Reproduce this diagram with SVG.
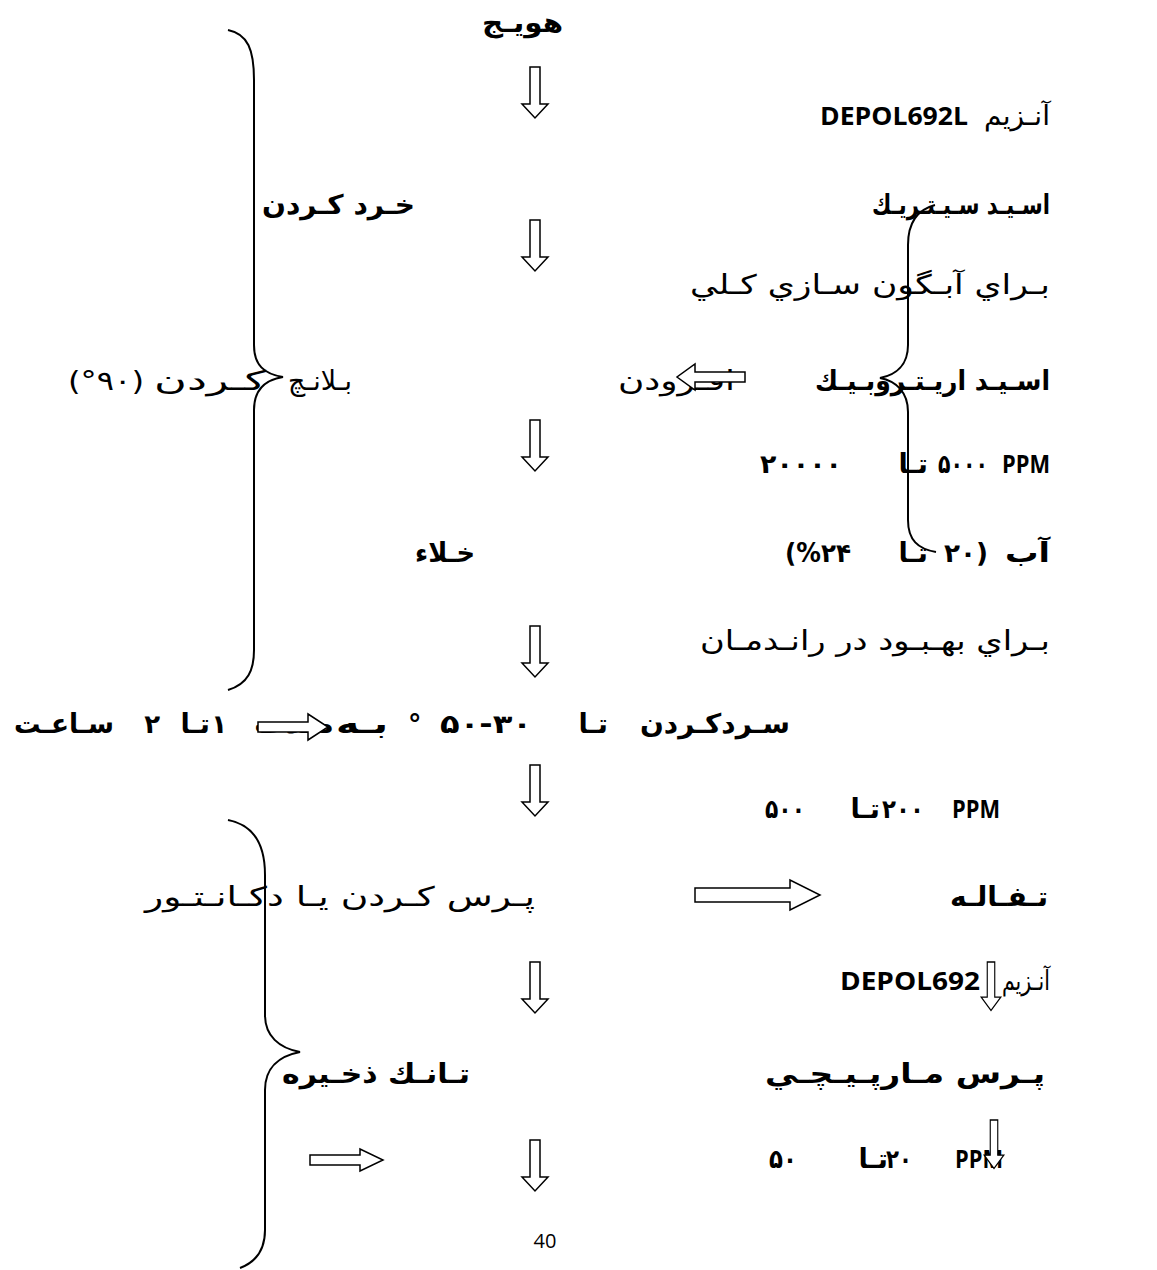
<svg xmlns="http://www.w3.org/2000/svg" width="1157" height="1270" viewBox="0 0 1157 1270">
<style>
.ar{font-family:"DejaVu Sans",sans-serif;font-size:27px;font-weight:bold;fill:#000}
.arn{font-family:"DejaVu Sans",sans-serif;font-size:27px;font-weight:normal;fill:#000}
.dg{font-family:"DejaVu Sans",sans-serif;font-size:26px;font-weight:bold;fill:#000;letter-spacing:3px}
.lat{font-family:"Open Sans","Noto Sans",sans-serif;font-size:25px;font-weight:bold;fill:#000}
.pg{font-family:"Open Sans","Noto Sans",sans-serif;font-size:20px;fill:#000}
.arrow{fill:#fff;stroke:#000;stroke-width:1.5}
.brace{fill:none;stroke:#000;stroke-width:2}
</style>
<defs>
<path id="darrow" d="M-5 0 H5 V37 H13 L0 51 L-13 37 H-5 Z"/>
</defs>
<rect width="1157" height="1270" fill="#fff"/>

<g id="braces">
<path class="brace" d="M228 30 C248 34 254 50 254 80 L254 345 C254 365 264 374 283 377 C264 380 254 390 254 410 L254 650 C254 670 248 684 228 690"/>
<path class="brace" d="M935 205 C916 210 908 225 908 245 L908 345 C908 365 896 375 880 378 C896 381 908 392 908 412 L908 520 C908 540 918 549 936 552"/>
<path class="brace" d="M228 820 C254 825 265 845 265 875 L265 1015 C265 1036 279 1048 300 1052 C279 1056 265 1068 265 1090 L265 1230 C265 1250 256 1262 240 1268"/>
</g>

<g id="n-carrot"><text class="ar" x="563" y="32" text-anchor="end" textLength="81" lengthAdjust="spacingAndGlyphs">هويـج</text></g>
<g id="n-enzyme1">
<text class="lat" x="968" y="125" text-anchor="end" textLength="148" lengthAdjust="spacingAndGlyphs">DEPOL692L</text>
<text class="arn" x="1050" y="125" text-anchor="end" textLength="66" lengthAdjust="spacingAndGlyphs">آنـزيم</text>
</g>
<g id="n-crush"><text class="ar" x="415" y="214" text-anchor="end" textLength="153" lengthAdjust="spacingAndGlyphs">خـرد  كـردن</text></g>
<g id="n-citric"><text class="ar" x="1050" y="214" text-anchor="end" textLength="178" lengthAdjust="spacingAndGlyphs">اسـيـد  سـيـتـريـك</text></g>
<g id="n-juice"><text class="arn" x="1050" y="294" text-anchor="end" textLength="360" lengthAdjust="spacingAndGlyphs">بـراي  آبـگون  سـازي  كـلي</text></g>
<g id="n-blanch">
<text class="arn" x="352" y="390" text-anchor="end" textLength="64" lengthAdjust="spacingAndGlyphs">بـلانـچ</text>
<text class="arn" x="266" y="390" text-anchor="end" textLength="112" lengthAdjust="spacingAndGlyphs">كـردن</text>
<text class="arn" x="68" y="390" textLength="76" lengthAdjust="spacingAndGlyphs">(°۹۰)</text>
</g>
<g id="n-add"><text class="arn" x="735" y="390" text-anchor="end" textLength="117" lengthAdjust="spacingAndGlyphs">افـزودن</text></g>
<g id="n-erythorbic"><text class="ar" x="1050" y="390" text-anchor="end" textLength="235" lengthAdjust="spacingAndGlyphs">اسـيـد  اريـتـروبـيـك</text></g>
<g id="n-ppm1">
<text class="lat" x="1050" y="473" text-anchor="end" textLength="48" lengthAdjust="spacingAndGlyphs">PPM</text>
<text class="dg" x="988" y="473" text-anchor="end" textLength="50" lengthAdjust="spacingAndGlyphs">۵۰۰۰</text>
<text class="ar" x="928" y="473" text-anchor="end">تـا</text>
<text class="dg" x="842" y="473" text-anchor="end" textLength="82" lengthAdjust="spacingAndGlyphs">۲۰۰۰۰</text>
</g>
<g id="n-vacuum"><text class="ar" x="475" y="562" text-anchor="end" textLength="60" lengthAdjust="spacingAndGlyphs">خـلاء</text></g>
<g id="n-water">
<text class="ar" x="1050" y="562" text-anchor="end" textLength="45" lengthAdjust="spacingAndGlyphs">آب</text>
<text class="dg" x="988" y="562" text-anchor="end" textLength="44" lengthAdjust="spacingAndGlyphs">۲۰)</text>
<text class="ar" x="928" y="562" text-anchor="end">تـا</text>
<text class="dg" x="785" y="562" textLength="66" lengthAdjust="spacingAndGlyphs">(%۲۴</text>
</g>
<g id="n-yield"><text class="arn" x="1050" y="650" text-anchor="end" textLength="350" lengthAdjust="spacingAndGlyphs">بـراي  بهـبـود  در  رانـدمـان</text></g>
<g id="n-cool">
<text class="ar" x="790" y="733" text-anchor="end" textLength="150" lengthAdjust="spacingAndGlyphs">سـردكـردن</text>
<text class="ar" x="608" y="733" text-anchor="end">تـا</text>
<text class="dg" x="440" y="733" textLength="92" lengthAdjust="spacingAndGlyphs">۵۰-۳۰</text>
<text class="ar" x="408" y="733">°</text>
<text class="ar" x="388" y="733" text-anchor="end" textLength="52" lengthAdjust="spacingAndGlyphs">بـه</text>
<text class="ar" x="334" y="733" text-anchor="end" textLength="80" lengthAdjust="spacingAndGlyphs">مـدت</text>
<text class="dg" x="227" y="733" text-anchor="end">۱</text>
<text class="ar" x="210" y="733" text-anchor="end">تـا</text>
<text class="dg" x="160" y="733" text-anchor="end">۲</text>
<text class="ar" x="114" y="733" text-anchor="end" textLength="100" lengthAdjust="spacingAndGlyphs">سـاعـت</text>
</g>
<g id="n-ppm2">
<text class="lat" x="1000" y="818" text-anchor="end" textLength="48" lengthAdjust="spacingAndGlyphs">PPM</text>
<text class="dg" x="924" y="818" text-anchor="end" textLength="42" lengthAdjust="spacingAndGlyphs">۲۰۰</text>
<text class="ar" x="880" y="818" text-anchor="end">تـا</text>
<text class="dg" x="805" y="818" text-anchor="end" textLength="40" lengthAdjust="spacingAndGlyphs">۵۰۰</text>
</g>
<g id="n-press"><text class="arn" x="535" y="906" text-anchor="end" textLength="390" lengthAdjust="spacingAndGlyphs">پـرس  كـردن  يـا  دكـانـتـور</text></g>
<g id="n-pomace"><text class="ar" x="1048" y="906" text-anchor="end" textLength="98" lengthAdjust="spacingAndGlyphs">تـفـالـه</text></g>
<g id="n-enzyme2">
<text class="lat" x="980" y="990" text-anchor="end" textLength="140" lengthAdjust="spacingAndGlyphs">DEPOL692</text>
<text class="arn" x="1050" y="990" text-anchor="end" textLength="48" lengthAdjust="spacingAndGlyphs">آنـزيم</text>
</g>
<g id="n-tank"><text class="ar" x="470" y="1083" text-anchor="end" textLength="188" lengthAdjust="spacingAndGlyphs">تـانـك  ذخـيره</text></g>
<g id="n-screw"><text class="ar" x="1045" y="1083" text-anchor="end" textLength="280" lengthAdjust="spacingAndGlyphs">پـرس  مـارپـيـچـي</text></g>
<g id="n-ppm3">
<text class="lat" x="1003" y="1168" text-anchor="end" textLength="48" lengthAdjust="spacingAndGlyphs">PPM</text>
<text class="dg" x="912" y="1168" text-anchor="end" textLength="26" lengthAdjust="spacingAndGlyphs">۲۰</text>
<text class="ar" x="888" y="1168" text-anchor="end">تـا</text>
<text class="dg" x="797" y="1168" text-anchor="end" textLength="28" lengthAdjust="spacingAndGlyphs">۵۰</text>
</g>
<text class="pg" x="545" y="1248" text-anchor="middle">40</text>

<g id="connectors">
<use href="#darrow" class="arrow" x="535" y="67"/>
<use href="#darrow" class="arrow" x="535" y="220"/>
<use href="#darrow" class="arrow" x="535" y="420"/>
<use href="#darrow" class="arrow" x="535" y="626"/>
<use href="#darrow" class="arrow" x="535" y="765"/>
<use href="#darrow" class="arrow" x="535" y="962"/>
<use href="#darrow" class="arrow" x="535" y="1140"/>
<g transform="translate(991 962) scale(0.75 0.95)"><use href="#darrow" class="arrow"/></g>
<g transform="translate(994 1120) scale(0.75 0.95)"><use href="#darrow" class="arrow"/></g>
<path class="arrow" d="M745 372 H695 V364 L677 377 L695 390 V382 H745 Z"/>
<path class="arrow" d="M258 722 H308 V714 L328 727 L308 740 V732 H258 Z"/>
<path class="arrow" d="M695 888 H790 V880 L820 895 L790 910 V902 H695 Z"/>
<path class="arrow" d="M310 1155 H360 V1149 L383 1160 L360 1171 V1165 H310 Z"/>
</g>
</svg>
